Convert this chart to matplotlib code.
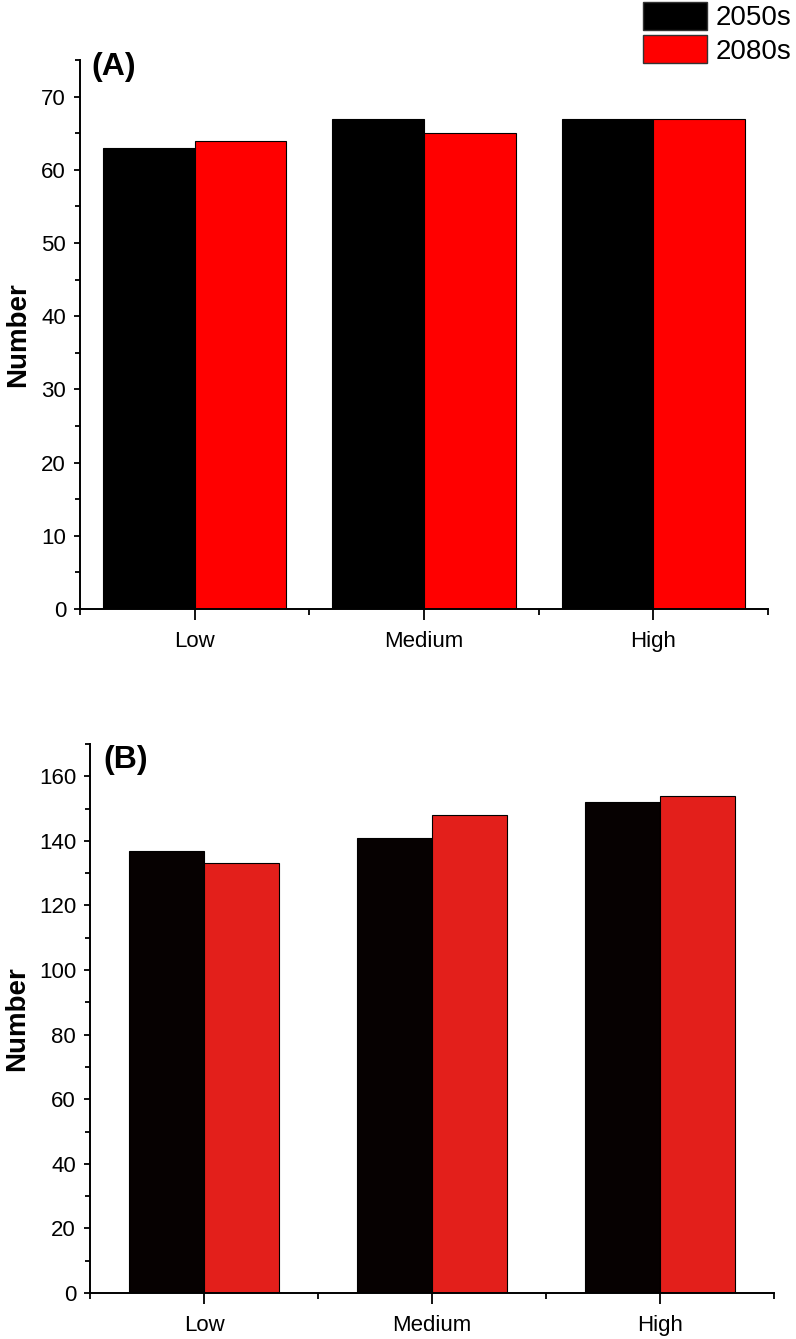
import numpy as np
import matplotlib.pyplot as plt
from matplotlib.patches import Patch
from matplotlib.ticker import MultipleLocator

# categories and values
categories = ['Low', 'Medium', 'High']
series_names = ['2050s', '2080s']
vals_a_2050 = [63, 67, 67]
vals_a_2080 = [64, 65, 67]
vals_b_2050 = [137, 141, 152]
vals_b_2080 = [133, 148, 154]

plt.rcParams['font.family'] = ['Liberation Sans', 'DejaVu Sans']

fig = plt.figure(figsize=(7.96, 13.39), dpi=100)

ax_a = fig.add_axes([80/796, 730/1339, 688/796, 549/1339])
ax_b = fig.add_axes([90/796, 46/1339, 684/796, 549/1339])

x = np.arange(len(categories))


def style_axes(ax, ymax, major, minor, label_x):
    ax.set_xlim(-0.5, 2.5)
    ax.set_ylim(0, ymax)
    for s in ['top', 'right']:
        ax.spines[s].set_visible(False)
    for s in ['left', 'bottom']:
        ax.spines[s].set_linewidth(1.4)
    ax.set_xticks(x)
    ax.set_xticklabels(categories)
    ax.xaxis.set_minor_locator(MultipleLocator(0.5))
    ax.yaxis.set_major_locator(MultipleLocator(major))
    ax.yaxis.set_minor_locator(MultipleLocator(minor))
    ax.tick_params(axis='x', which='major', direction='out', length=8, width=1.3,
                   labelsize=16, pad=8)
    ax.tick_params(axis='x', which='minor', direction='out', length=4, width=1.3)
    ax.tick_params(axis='y', which='major', direction='out', length=4, width=1.3,
                   labelsize=16, pad=6)
    ax.tick_params(axis='y', which='minor', direction='out', length=3.5, width=1.3)
    ax.set_ylabel('Number', fontsize=20, fontweight='bold')
    ax.yaxis.set_label_coords(label_x, 0.5)


# panel A
w = 0.4
ax_a.bar(x - w/2, vals_a_2050, w, color='#000000', edgecolor='black', linewidth=0.8)
ax_a.bar(x + w/2, vals_a_2080, w, color='#ff0000', edgecolor='black', linewidth=0.8)
style_axes(ax_a, 75, 10, 5, -0.071)
ax_a.text(0.017, 1.015, '(A)', transform=ax_a.transAxes, ha='left', va='top',
          fontsize=23, fontweight='bold')

# panel B
w = 0.33
ax_b.bar(x - w/2, vals_b_2050, w, color='#060101', edgecolor='black', linewidth=0.8)
ax_b.bar(x + w/2, vals_b_2080, w, color='#e31f1b', edgecolor='black', linewidth=0.8)
style_axes(ax_b, 170, 20, 10, -0.087)
ax_b.text(0.02, 0.998, '(B)', transform=ax_b.transAxes, ha='left', va='top',
          fontsize=23, fontweight='bold')

# legend at the top right of the figure
handles = [Patch(facecolor='#000000', edgecolor='#333333', linewidth=1.0),
           Patch(facecolor='#ff0000', edgecolor='#333333', linewidth=1.0)]
fig.legend(handles, series_names, loc='upper right',
           bbox_to_anchor=(791/796, 1 - 2/1339), frameon=False,
           fontsize=20, handlelength=2.3, handleheight=1.15,
           handletextpad=0.3, labelspacing=0.15, borderpad=0, borderaxespad=0)

fig.savefig('out.png', dpi=100)
